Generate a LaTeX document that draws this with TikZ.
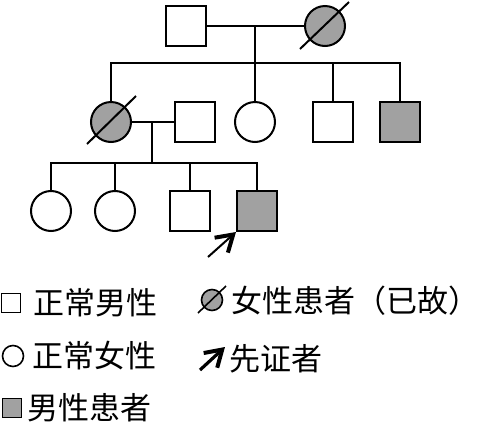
\documentclass[tikz,border=0pt]{standalone}
\usepackage{fontspec}
\newfontfamily\cjk{Noto Sans CJK SC}
\usetikzlibrary{arrows.meta}
\definecolor{affGray}{gray}{0.63}

\begin{document}
\begin{tikzpicture}[x=0.5pt, y=-0.5pt,
    pedMale/.style={draw, line width=1pt, minimum size=20pt, inner sep=0pt},
    pedFemale/.style={draw, circle, line width=1pt, minimum size=20pt, inner sep=0pt},
    pedAff/.style={fill=affGray},
    pedLine/.style={line width=1pt},
    probArrow/.style={line width=1pt, -{Straight Barb[length=8pt, width=10pt, line width=2pt]}},
    legMale/.style={draw, line width=0.8pt, minimum size=9.5pt, inner sep=0pt},
    legFemale/.style={draw, circle, line width=0.8pt, minimum size=10.5pt, inner sep=0pt},
    legText/.style={font=\cjk\fontsize{15.5}{18}\selectfont, inner sep=0pt, anchor=west}]
    \useasboundingbox (0, 0) rectangle (479, 424);

    % generation I
    \node[pedMale] (f1) at (186, 26) {};
    \node[pedFemale, pedAff] (m1) at (325, 26) {};
    \draw[pedLine] ([shift={(-25, 23)}]m1.center) -- ([shift={(24, -24)}]m1.center);
    \draw[pedLine] (f1) -- (m1);

    % generation II
    \node[pedFemale, pedAff] (d1) at (111, 122) {};
    \node[pedMale] (h1) at (195, 122) {};
    \node[pedFemale] (d2) at (255, 122) {};
    \node[pedMale] (s1) at (333, 122) {};
    \node[pedMale, pedAff] (s2) at (400, 122) {};
    \draw[pedLine] ([shift={(-24, 22)}]d1.center) -- ([shift={(25, -26)}]d1.center);
    \coordinate (sib1) at (255, 63);
    \draw[pedLine] (sib1 |- f1) -- (d2);
    \draw[pedLine] (d1) |- (sib1) -| (s2);
    \draw[pedLine] (s1.north) -- (s1.north |- sib1);
    \draw[pedLine] (d1) -- (h1);

    % generation III
    \node[pedFemale] (g1) at (51, 211) {};
    \node[pedFemale] (g2) at (115, 211) {};
    \node[pedMale] (g3) at (190, 211) {};
    \node[pedMale, pedAff] (g4) at (257, 211) {};
    \coordinate (sib2) at (152, 163);
    \draw[pedLine] (sib2 |- d1) -- (sib2);
    \draw[pedLine] (g1) |- (sib2) -| (g4);
    \draw[pedLine] (g2.north) -- (g2.north |- sib2);
    \draw[pedLine] (g3.north) -- (g3.north |- sib2);
    \draw[probArrow] ([shift={(-28, 25)}]g4.south west) -- (g4.south west);

    % legend
    \node[legMale] (lgM) at (11, 303) {};
    \node[legText] (lgMTxt) at (33, 303) {正常男性};
    \node[legFemale, fill=affGray] (lgDead) at (212, 300) {};
    \draw[line width=0.8pt] ([shift={(-14, 13)}]lgDead.center) -- ([shift={(14, -14)}]lgDead.center);
    \node[legText] (lgDeadTxt) at (231, 301) {女性患者（已故）};
    \node[legFemale] (lgF) at (13, 356) {};
    \node[legText] (lgFTxt) at (32, 356) {正常女性};
    \coordinate (lgArr) at (200, 370);
    \draw[probArrow, line width=1.6pt] (lgArr) -- ++(25, -23);
    \node[legText] (lgArrTxt) at (229, 359) {先证者};
    \node[legMale, fill=affGray] (lgAff) at (12, 408) {};
    \node[legText] (lgAffTxt) at (27, 408) {男性患者};
\end{tikzpicture}
\end{document}
